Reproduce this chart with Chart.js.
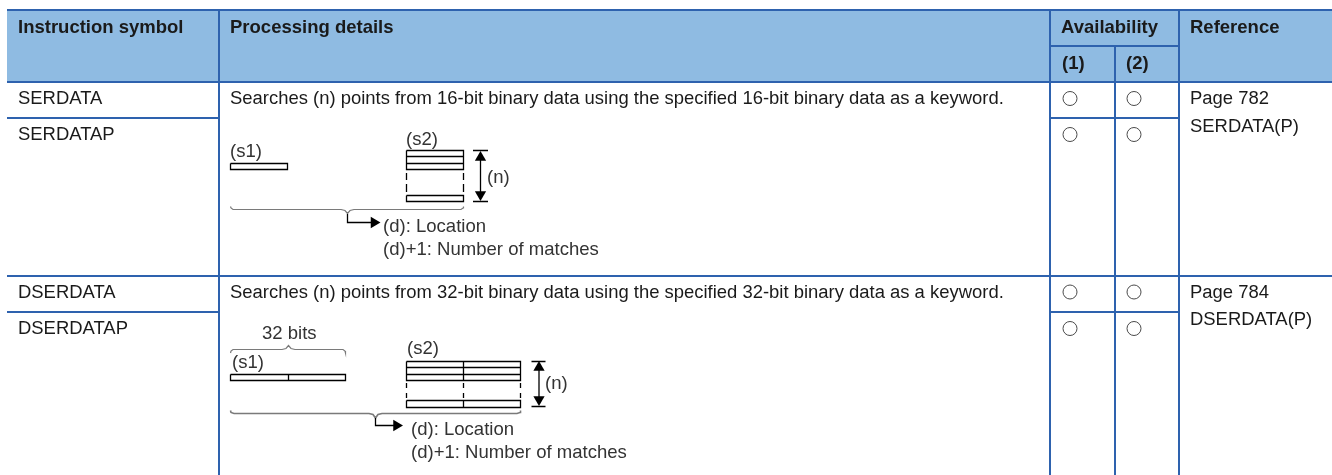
<!DOCTYPE html>
<html><head><meta charset="utf-8">
<style>html,body{margin:0;padding:0;background:#fff}canvas{display:block}</style>
<script src="https://cdn.jsdelivr.net/npm/chart.js@4/dist/chart.umd.js"></script>
</head><body><canvas id="c" width="1332" height="475"></canvas>
<script>
// ---- table content ----
const headers = ["Instruction symbol","Processing details","Availability","(1)","(2)","Reference"];
const instructions = ["SERDATA","SERDATAP","DSERDATA","DSERDATAP"];
const details = ["Searches (n) points from 16-bit binary data using the specified 16-bit binary data as a keyword.",
                 "Searches (n) points from 32-bit binary data using the specified 32-bit binary data as a keyword."];
const pageRefs = ["Page 782","Page 784"];
const refNames = ["SERDATA(P)","DSERDATA(P)"];
const availability = [[1,1],[1,1],[1,1],[1,1]];
const diagram16 = ["(s1)","(s2)","(n)","(d): Location","(d)+1: Number of matches"];
const diagram32 = ["32 bits","(s1)","(s2)","(n)","(d): Location","(d)+1: Number of matches"];

// ---- layout (table scale runs in page units) ----
const W=1332,H=475;
const colX=[219,1050,1115,1179], leftX=7;
const topY=10, subHeadY=46, headBottomY=82, rowY=[118,276,312];
const circleX=[1070,1134], circleY=[98.5,134.5,292,328.5];
const RULE='#2E62AE',HEAD='#8FBBE2',TXT='#1a1a1a',DIA='#333',BR='#7a7a7a',BLK='#000';

function segs(list){const o=[];list.forEach(s=>{for(let i=0;i<s.length;i+=2)o.push({x:s[i],y:s[i+1]});o.push({x:NaN,y:NaN});});return o;}
function line(list,color,width){return {type:'scatter',showLine:true,data:segs(list),borderColor:color,borderWidth:width,pointRadius:0,spanGaps:false,tension:0,clip:false};}
function marks(pts,style,rot,r,fill,stroke,bw){return {type:'scatter',data:pts.map(p=>({x:p[0],y:p[1]})),pointStyle:style,pointRotation:rot,pointRadius:r,backgroundColor:fill,borderColor:stroke,borderWidth:bw,clip:false,showLine:false};}

const rows=[];availability.forEach((r,i)=>r.forEach((v,j)=>{if(v)rows.push([circleX[j],circleY[i]]);}));

const datasets=[
 marks(rows,'circle',0,7,'#fff','#4a4a4a',1),
 line([
  [leftX,topY,W,topY],[leftX,headBottomY,W,headBottomY],[leftX,rowY[1],W,rowY[1]],
  [colX[1],subHeadY,colX[3],subHeadY],[colX[2],subHeadY,colX[2],H],
  [leftX,rowY[0],colX[0],rowY[0]],[colX[1],rowY[0],colX[3],rowY[0]],
  [leftX,rowY[2],colX[0],rowY[2]],[colX[1],rowY[2],colX[3],rowY[2]],
  [colX[0],topY,colX[0],H],[colX[1],topY,colX[1],H],[colX[3],topY,colX[3],H]
 ],RULE,2),
 // 16-bit diagram
 line([
  [230.5,163.5,287.5,163.5,287.5,169.5,230.5,169.5,230.5,163.5],
  [406.5,150.5,463.5,150.5,463.5,169.5,406.5,169.5,406.5,150.5],
  [406.5,156.5,463.5,156.5],[406.5,163.5,463.5,163.5],
  [406.5,195.5,463.5,195.5,463.5,201.5,406.5,201.5,406.5,195.5],
  [473,150.5,488,150.5],[473,201.5,488,201.5],[480.5,155,480.5,197],
  [347.5,214,347.5,222.5,373,222.5],
  [406.5,173,406.5,180],[406.5,184,406.5,192],[463.5,173,463.5,180],[463.5,184,463.5,192]
 ],BLK,1.3),
 line([[230.5,206.5,231,208,233,209.5,341,209.5,345,210.5,347.5,213.5,350,210.5,354,209.5,461,209.5,463,208,463.5,206.5]],BR,1.2),
 // 32-bit diagram
 line([
  [230.5,374.5,345.5,374.5,345.5,380.5,230.5,380.5,230.5,374.5],[288.5,374.5,288.5,380.5],
  [406.5,361.5,520.5,361.5,520.5,380.5,406.5,380.5,406.5,361.5],
  [406.5,367.5,520.5,367.5],[406.5,374.5,520.5,374.5],[463.5,361.5,463.5,380.5],
  [406.5,400.5,520.5,400.5,520.5,407.5,406.5,407.5,406.5,400.5],[463.5,400.5,463.5,407.5],
  [531.5,361.5,545.5,361.5],[531.5,406.5,545.5,406.5],[539,365,539,403],
  [375.5,418,375.5,425.5,394,425.5],
  [406.5,383,406.5,388],[406.5,393,406.5,398],[463.5,383,463.5,388],[463.5,393,463.5,398],[520.5,383,520.5,388],[520.5,393,520.5,398]
 ],BLK,1.3),
 line([[230.5,353,231,351,233,349.5,282,349.5,286,348.5,288.5,345.5,291,348.5,295,349.5,343,349.5,345,351,345.5,353]],BR,1.2),
 line([[230.5,410.5,231,412.5,234,413.5,369,413.5,373,414.5,375.5,418,378,414.5,382,413.5,517,413.5,520,412.5,520.5,410.5]],BR,1.6),
 // arrowheads
 marks([[480.5,157.5],[539,367.5]],'triangle',0,6.5,BLK,BLK,0),
 marks([[480.5,194.5],[539,399.5]],'triangle',180,6.5,BLK,BLK,0),
 marks([[374,222.5],[396.5,425.5]],'triangle',90,6.5,BLK,BLK,0),
 // header band
 {type:'scatter',showLine:true,data:[{x:leftX,y:topY},{x:W,y:topY}],borderWidth:0,pointRadius:0,backgroundColor:HEAD,fill:{value:headBottomY},clip:false}
];

const F='"Liberation Sans",Arial,sans-serif';
const HEADSZ=18.5, BODY=18.45, DIAG=18.55;
const texts=[
 [headers[0],18,33,'bold',TXT,HEADSZ],[headers[1],230,33,'bold',TXT,HEADSZ],[headers[2],1061,33,'bold',TXT,HEADSZ],
 [headers[3],1062,69,'bold',TXT,HEADSZ],[headers[4],1126,69,'bold',TXT,HEADSZ],[headers[5],1190,33,'bold',TXT,HEADSZ],
 [instructions[0],18,104,'',TXT,BODY],[instructions[1],18,140,'',TXT,BODY],
 [instructions[2],18,298,'',TXT,BODY],[instructions[3],18,334,'',TXT,BODY],
 [details[0],230,104,'',TXT,BODY],[details[1],230,298,'',TXT,BODY],
 [pageRefs[0],1190,104,'',TXT,BODY],[refNames[0],1190,132,'',TXT,BODY],
 [pageRefs[1],1190,298,'',TXT,BODY],[refNames[1],1190,325,'',TXT,BODY],
 [diagram16[0],230,157,'',DIA,DIAG],[diagram16[1],406,145,'',DIA,DIAG],[diagram16[2],487,183,'',DIA,DIAG],
 [diagram16[3],383,232,'',DIA,DIAG],[diagram16[4],383,255,'',DIA,DIAG],
 [diagram32[0],262,339,'',DIA,DIAG],[diagram32[1],232,368,'',DIA,DIAG],[diagram32[2],407,354,'',DIA,DIAG],[diagram32[3],545,389,'',DIA,DIAG],
 [diagram32[4],411,435,'',DIA,DIAG],[diagram32[5],411,458,'',DIA,DIAG]
];
const textPlugin={id:'tableText',afterDatasetsDraw(ch){
 const c=ch.ctx,x=ch.scales.x,y=ch.scales.y;c.save();c.textBaseline='alphabetic';c.textAlign='left';
 texts.forEach(t=>{c.font=(t[3]?t[3]+' ':'')+t[5]+'px '+F;c.fillStyle=t[4];c.fillText(t[0],x.getPixelForValue(t[1]),y.getPixelForValue(t[2]));});
 c.restore();}};

new Chart(document.getElementById('c'),{type:'scatter',data:{datasets},plugins:[textPlugin],options:{
 responsive:false,animation:false,devicePixelRatio:1,layout:{padding:0,autoPadding:false},
 plugins:{legend:{display:false},tooltip:{enabled:false},title:{display:false}},
 scales:{x:{type:'linear',display:false,min:0,max:W},y:{type:'linear',display:false,min:0,max:H,reverse:true}}
}});
</script></body></html>
